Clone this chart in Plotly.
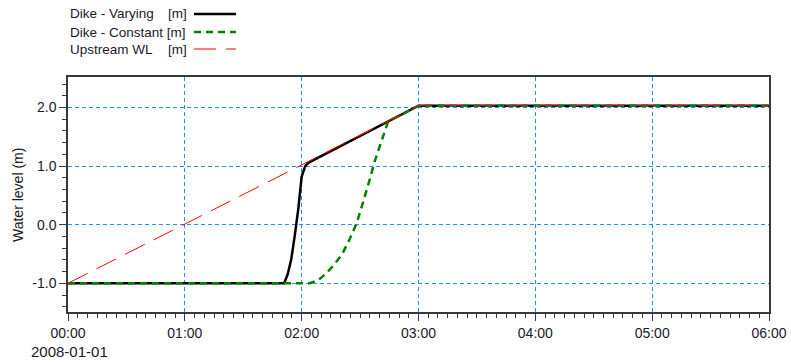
import plotly.graph_objects as go
import pandas as pd

# ---- data (hours after 2008-01-01 00:00, water level in m) ----
varying_hours = [0.0, 1.85, 1.88, 1.91, 1.94, 1.97, 2.00, 2.03, 2.06, 2.5, 3.0, 6.0]
varying_level = [-1.0, -1.0, -0.85, -0.6, -0.2, 0.25, 0.82, 1.0, 1.06, 1.51, 2.03, 2.03]

constant_hours = [0.0, 2.07, 2.14, 2.21, 2.28, 2.35, 2.41, 2.47, 2.51, 2.55, 2.59, 2.62, 2.67, 2.71, 2.74, 3.0, 6.0]
constant_level = [-1.0, -1.0, -0.95, -0.83, -0.68, -0.49, -0.25, 0.02, 0.28, 0.53, 0.82, 1.05, 1.35, 1.61, 1.76, 2.03, 2.03]

upstream_hours = [0.0, 3.0, 6.0]
upstream_level = [-1.0, 2.03, 2.03]

series_names = ["Dike - Varying", "Dike - Constant", "Upstream WL"]
unit_label = "[m]"
x_tick_labels = ["00:00", "01:00", "02:00", "03:00", "04:00", "05:00", "06:00"]
y_ticks = [-1.0, 0.0, 1.0, 2.0]
start = pd.Timestamp("2008-01-01 00:00")


def to_time(hours):
    return [start + pd.Timedelta(hours=h) for h in hours]


colors = ["#000000", "#008000", "#FF0000"]
widths = [2.5, 2.5, 1.0]
dashes = ["solid", "7px,5px", "22px,10px"]

fig = go.Figure()
fig.add_trace(go.Scatter(x=to_time(varying_hours), y=varying_level, mode="lines",
                         line=dict(color=colors[0], width=widths[0], dash=dashes[0]),
                         name=series_names[0], showlegend=False))
fig.add_trace(go.Scatter(x=to_time(constant_hours), y=constant_level, mode="lines",
                         line=dict(color=colors[1], width=widths[1], dash=dashes[1]),
                         name=series_names[1], showlegend=False))
fig.add_trace(go.Scatter(x=to_time(upstream_hours), y=upstream_level, mode="lines",
                         line=dict(color=colors[2], width=widths[2], dash=dashes[2]),
                         name=series_names[2], showlegend=False))

font = "Liberation Sans, Arial, sans-serif"
text_color = "#1a1a2a"
W, H = 791, 364
ml, mr, mt, mb = 68, 22, 77, 52
PW, PH = W - ml - mr, H - mt - mb


def px_x(page_px):
    return (page_px - ml) / PW


def px_y(page_py):
    return 1 - (page_py - mt) / PH


# custom legend (text left, line sample right)
legend_rows = [14, 32, 49]
legend_texts = [series_names[0], series_names[1] + " " + unit_label, series_names[2]]
for i, txt in enumerate(legend_texts):
    yy = px_y(legend_rows[i])
    fig.add_annotation(xref="paper", yref="paper", x=px_x(68), y=yy, text=txt,
                       showarrow=False, xanchor="left", yanchor="middle",
                       font=dict(family=font, size=13.5, color=text_color))
    if i != 1:
        fig.add_annotation(xref="paper", yref="paper", x=px_x(166), y=yy, text=unit_label,
                           showarrow=False, xanchor="left", yanchor="middle",
                           font=dict(family=font, size=13.5, color=text_color))
    fig.add_shape(type="line", xref="paper", yref="paper",
                  x0=px_x(194), x1=px_x(236), y0=yy, y1=yy,
                  line=dict(color=colors[i], width=widths[i], dash=dashes[i]))

# date label under first tick
fig.add_annotation(xref="paper", yref="paper", x=px_x(69), y=px_y(351), text="2008-01-01",
                   showarrow=False, xanchor="center", yanchor="middle",
                   font=dict(family=font, size=15, color=text_color))

# y axis title
fig.add_annotation(xref="paper", yref="paper", x=px_x(18), y=px_y(195), text="Water level (m)",
                   showarrow=False, xanchor="center", yanchor="middle", textangle=-90,
                   font=dict(family=font, size=14, color=text_color))

grid_color = "#1E90FF"
axis_color = "#3a3a3a"
fig.update_layout(
    width=W, height=H,
    margin=dict(l=ml, r=mr, t=mt, b=mb, autoexpand=False),
    paper_bgcolor="white", plot_bgcolor="white",
    font=dict(family=font, size=14, color=text_color),
    xaxis=dict(
        type="date", automargin=False,
        range=[start, start + pd.Timedelta(hours=6)],
        tickvals=to_time(range(len(x_tick_labels))),
        ticktext=x_tick_labels,
        showgrid=True, gridcolor=grid_color, griddash="4px,3px", gridwidth=1,
        showline=True, linecolor=axis_color, linewidth=1.5, mirror=True,
        ticks="outside", ticklen=7, tickcolor=axis_color,
        minor=dict(ticks="outside", ticklen=4, tickcolor=axis_color,
                   dtick=300000, showgrid=False),
        zeroline=False,
    ),
    yaxis=dict(
        automargin=False,
        range=[-1.49, 2.52],
        tickvals=y_ticks,
        ticktext=[f"{v:.1f}" for v in y_ticks],
        showgrid=True, gridcolor=grid_color, griddash="4px,3px", gridwidth=1,
        showline=True, linecolor=axis_color, linewidth=1.5, mirror=True,
        ticks="outside", ticklen=7, tickcolor=axis_color,
        minor=dict(ticks="outside", ticklen=4, tickcolor=axis_color,
                   dtick=0.2, tick0=0, showgrid=False),
        zeroline=False,
    ),
)

fig.write_html(
    "out.html",
    config={"displayModeBar": False},
    post_script="document.body.style.margin='0';document.body.style.overflow='hidden';",
)
